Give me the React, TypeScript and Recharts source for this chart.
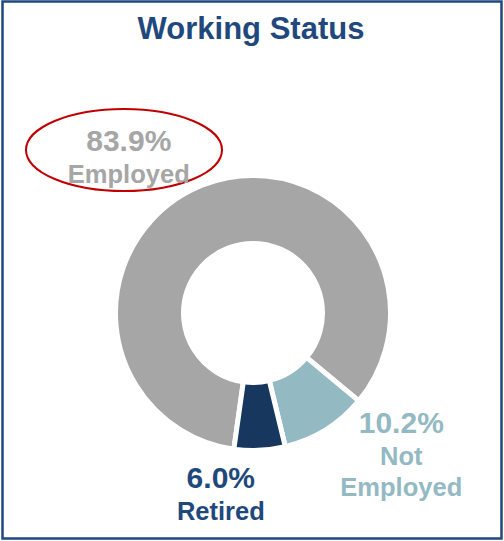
import { PieChart, Pie, Cell } from 'recharts';

// ── Data ──────────────────────────────────────────────────────

const CATEGORIES = ['Employed', 'Not Employed', 'Retired'];
const SHARES = [83.9, 10.2, 6.0];

// ── Styles ────────────────────────────────────────────────────

const COLORS = ['#a6a6a6', '#93b9c3', '#17375e'];
const LABEL_COLORS = ['#a6a6a6', '#93b9c3', '#1f497d'];
const FONT = '"Liberation Sans", Arial, sans-serif';

// label placement: radius from centre + horizontal nudge, per slice
const LABEL_R = [167, 167, 181];
const LABEL_DX = [-64, 60, -41];

const W = 504;
const H = 541;

const data = CATEGORIES.map((name, i) => ({ name, value: SHARES[i] }));

const RADIAN = Math.PI / 180;

function renderLabel(props: any) {
    const { cx, cy, midAngle, index } = props;
    const r = LABEL_R[index];
    const x = cx + r * Math.cos(-midAngle * RADIAN) + LABEL_DX[index];
    const y = cy + r * Math.sin(-midAngle * RADIAN);
    const words = CATEGORIES[index].split(' ');
    const lines = [{ t: `${SHARES[index].toFixed(1)}%`, size: 30 }, ...words.map(w => ({ t: w, size: 25.5 }))];
    const lh = 31.5;
    const top = y - ((lines.length - 1) * lh) / 2;
    return (
        <text key={`lbl-${index}`} textAnchor="middle" fill={LABEL_COLORS[index]} fontFamily={FONT} fontWeight="bold">
            {lines.map((l, i) => (
                <tspan key={i} x={x} y={top + i * lh + 10} fontSize={l.size}>{l.t}</tspan>
            ))}
        </text>
    );
}

export default function App() {
    return (
        <div style={{ position: 'absolute', left: 0, top: 0, width: W, height: H, background: '#fff' }}>
            <svg width={W} height={H} style={{ position: 'absolute', left: 0, top: 0 }}>
                <rect x={2.5} y={1.5} width={499} height={537} fill="#fff" stroke="#1f497d" strokeWidth={2.5} />
                <text x={251} y={39} textAnchor="middle" fontFamily={FONT} fontWeight="bold" fontSize={31} fill="#1f497d">
                    Working Status
                </text>
                <ellipse cx={124} cy={150} rx={98} ry={41} fill="none" stroke="#c00000" strokeWidth={2} />
            </svg>
            <div style={{ position: 'absolute', left: 0, top: 0 }}>
                <PieChart width={W} height={H}>
                    <Pie
                        data={data}
                        dataKey="value"
                        nameKey="name"
                        cx={248}
                        cy={308}
                        innerRadius={69.5}
                        outerRadius={137.5}
                        startAngle={262}
                        endAngle={-98}
                        stroke="#fff"
                        strokeWidth={5}
                        label={renderLabel}
                        labelLine={false}
                        isAnimationActive={false}
                    >
                        {data.map((d, i) => (
                            <Cell key={d.name} fill={COLORS[i]} />
                        ))}
                    </Pie>
                </PieChart>
            </div>
        </div>
    );
}
